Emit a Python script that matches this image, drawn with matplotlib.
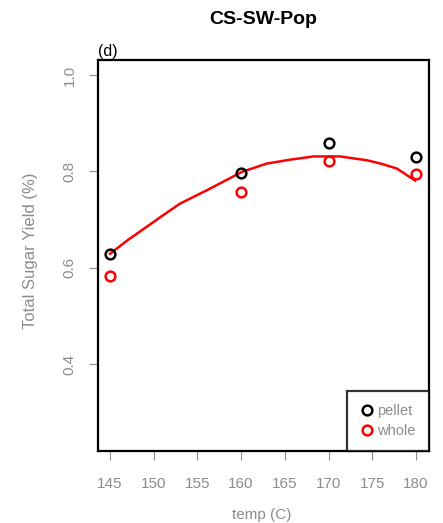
import matplotlib
matplotlib.use("Agg")
import matplotlib.pyplot as plt
from matplotlib.lines import Line2D

plt.rcParams['font.family'] = ['Liberation Sans', 'DejaVu Sans']

temps = [145, 160, 170, 180]
pellet = [0.628, 0.796, 0.858, 0.829]
whole = [0.582, 0.757, 0.821, 0.794]
curve_x = [145, 147.0, 149.2, 151.0, 153.0, 156.1, 158.0, 160.1, 162.9, 165.5, 168.3, 171.3, 174.4, 176.0, 177.8, 179.9]
curve_y = [0.629, 0.657, 0.685, 0.708, 0.733, 0.761, 0.779, 0.799, 0.816, 0.824, 0.831, 0.831, 0.823, 0.816, 0.806, 0.781]
xticks = [145, 150, 155, 160, 165, 170, 175, 180]
yticks = [0.4, 0.6, 0.8, 1.0]

gray = '#8c8c8c'
fig = plt.figure(figsize=(4.43, 5.23), dpi=100)
ax = fig.add_axes([98/443, 1-451/523, (429-98)/443, (451-60)/523])

ax.plot(curve_x, curve_y, color='red', lw=1.8, zorder=2)
ax.plot(temps, pellet, 'o', mfc='none', mec='black', mew=1.8, ms=7, zorder=3)
ax.plot(temps, whole, 'o', mfc='none', mec='red', mew=1.8, ms=7, zorder=3)

ax.set_xlim(143.63, 181.49)
ax.set_ylim(0.22, 1.031)
ax.set_xticks(xticks)
ax.set_xticklabels([str(t) for t in xticks])
ax.set_yticks(yticks)
ax.set_yticklabels([f"{v:.1f}" for v in yticks], rotation=90, va='center')
ax.tick_params(axis='both', colors=gray, labelcolor=gray, labelsize=11, length=6.5, width=0.8, direction='out')
ax.tick_params(axis='x', pad=12)
ax.tick_params(axis='y', pad=9)
for s in ax.spines.values():
    s.set_linewidth(1.6)
    s.set_color('black')

fig.text(31/443, 1-251/523, 'Total Sugar Yield (%)', color=gray, fontsize=12,
         rotation=90, ha='center', va='center')
fig.text(262/443, 1-515/523, 'temp (C)', color=gray, fontsize=11, ha='center', va='center')
fig.text(263/443, 1-20/523, 'CS-SW-Pop', fontsize=14, fontweight='bold', ha='center', va='center')
ax.text(0.0, 1.003, '(d)', transform=ax.transAxes, fontsize=11.5, ha='left', va='bottom')

handles = [Line2D([], [], marker='o', ls='none', mfc='none', mec='black', mew=1.8, ms=7),
           Line2D([], [], marker='o', ls='none', mfc='none', mec='red', mew=1.8, ms=7)]
leg = ax.legend(handles, ['pellet', 'whole'], loc='lower right', bbox_to_anchor=(1, 0),
                borderaxespad=0, fancybox=False, frameon=True, fontsize=10.5,
                handlelength=0.9, handletextpad=0.3, labelspacing=0.4,
                borderpad=0.9, labelcolor=gray)
leg.get_frame().set_edgecolor('black')
leg.get_frame().set_linewidth(1.6)

fig.savefig('out.png', dpi=100)
